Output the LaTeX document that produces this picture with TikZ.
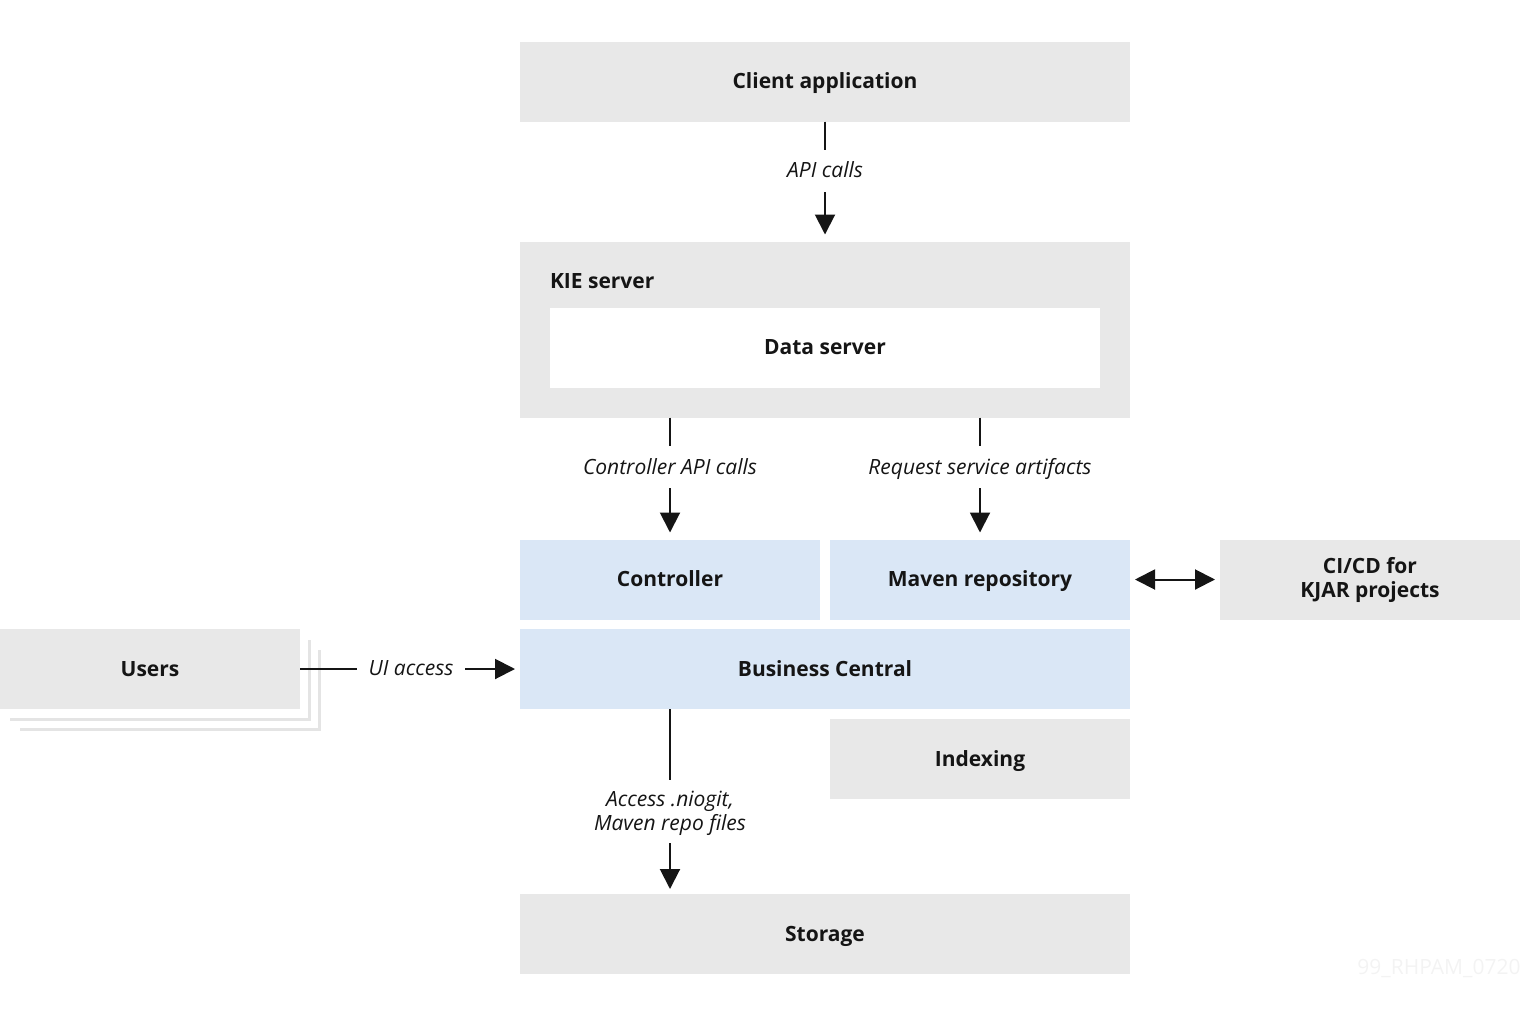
\documentclass[tikz,border=0pt]{standalone}
\usepackage{fontspec}
\setmainfont{Open Sans}
\usetikzlibrary{arrows.meta}
\definecolor{boxgray}{HTML}{E8E8E8}
\definecolor{boxblue}{HTML}{DAE7F6}
\definecolor{linegray}{HTML}{E4E4E4}
\definecolor{ink}{HTML}{151515}
\definecolor{wm}{HTML}{F3F3F3}
\tikzset{
  box/.style={inner sep=0pt, outer sep=0pt, align=center, text=ink, text height=18pt, text depth=4pt, font=\fontsize{21}{24}\selectfont\bfseries},
  gbox/.style={box, fill=boxgray},
  bbox/.style={box, fill=boxblue},
  wbox/.style={box, fill=white},
  multi/.style={text height={}, text depth={}},
  lbl/.style={inner sep=0pt, text=ink, align=center, text height=19pt, text depth=4pt, font=\fontsize{21}{24}\selectfont\itshape},
  conn/.style={draw=ink, line width=2pt},
  arr/.style={conn, -{Triangle[length=20pt,width=20pt]}},
  darr/.style={conn, {Triangle[length=20pt,width=20pt]}-{Triangle[length=20pt,width=20pt]}},
}
\begin{document}
\begin{tikzpicture}[x=1pt,y=-1pt]
\useasboundingbox (0,0) rectangle (1520,1009);
% Client
\node[gbox, minimum width=610, minimum height=80] (client) at (825,81.5) {Client application};
% KIE server
\node[gbox, minimum width=610, minimum height=176] (kie) at (825,329.5) {};
\node[box, anchor=west] (kielbl) at (550,281) {KIE server};
\node[wbox, minimum width=550, minimum height=80] (data) at (825,347.5) {Data server};
% Controller / Maven
\node[bbox, minimum width=300, minimum height=80] (ctrl) at (670,579.5) {Controller};
\node[bbox, minimum width=300, minimum height=80] (maven) at (980,579.5) {Maven repository};
\node[gbox, multi, minimum width=300, minimum height=80] (cicd) at (1370,579.5) {CI/CD for\\KJAR projects};
% Business central
\node[bbox, minimum width=610, minimum height=80] (bc) at (825,669) {Business Central};
% Users stack
\draw[linegray, line width=2.5pt] (20,729.5) -- (319.5,729.5) -- (319.5,650);
\draw[linegray, line width=2.5pt] (10,719.5) -- (309.5,719.5) -- (309.5,640);
\node[gbox, minimum width=300, minimum height=80] (users) at (150,669) {Users};
% Indexing
\node[gbox, minimum width=300, minimum height=80] (idx) at (980,759) {Indexing};
% Storage
\node[gbox, minimum width=610, minimum height=80] (stor) at (825,934) {Storage};
% Labels
\node[lbl] (l1) at (825,170) {API calls};
\node[lbl] (l2) at (670,467) {Controller API calls};
\node[lbl] (l3) at (980,467) {Request service artifacts};
\node[lbl] (l4) at (411,668) {UI access};
\node[lbl, multi] (l5) at (670,813) {Access .niogit,\\Maven repo files};
% Connectors
\coordinate (c1a) at (825,150); \coordinate (c1b) at (825,192);
\draw[conn] (client.south) -- (c1a);
\draw[arr] (c1b) -- ([yshift=7pt]kie.north);
\coordinate (c2a) at (670,446); \coordinate (c2b) at (670,488);
\draw[conn] (kie.south -| c2a) -- (c2a);
\draw[arr] (c2b) -- ([yshift=7pt]ctrl.north);
\coordinate (c3a) at (980,446); \coordinate (c3b) at (980,488);
\draw[conn] (kie.south -| c3a) -- (c3a);
\draw[arr] (c3b) -- ([yshift=7pt]maven.north);
\coordinate (c4a) at (357,669); \coordinate (c4b) at (465,669);
\draw[conn] (users.east) -- (c4a);
\draw[arr] (c4b) -- ([xshift=-5pt]bc.west);
\draw[darr] ([xshift=5pt]maven.east) -- ([xshift=-5pt]cicd.west);
\coordinate (c5a) at (670,780); \coordinate (c5b) at (670,843);
\draw[conn] (bc.south -| c5a) -- (c5a);
\draw[arr] (c5b) -- ([yshift=5pt]stor.north -| c5b);
% watermark
\node[inner sep=0pt, text=wm, font=\fontsize{21}{24}\selectfont] (wmk) at (1439,968) {99\_RHPAM\_0720};
\end{tikzpicture}
\end{document}
